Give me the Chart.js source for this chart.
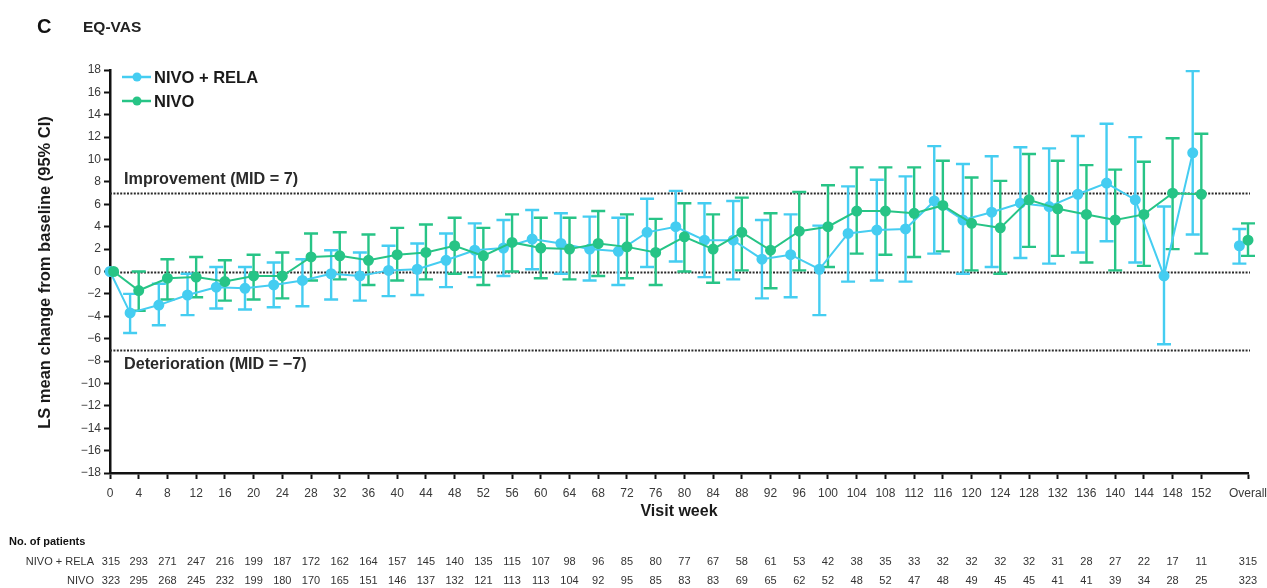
<!DOCTYPE html>
<html>
<head>
<meta charset="utf-8">
<title>EQ-VAS</title>
<script src="https://cdn.jsdelivr.net/npm/chart.js@4.4.1/dist/chart.umd.min.js"></script>
<style>
  html, body { margin: 0; padding: 0; background: #ffffff; }
  #wrap { width: 1267px; height: 588px; position: relative; }
</style>
</head>
<body>
<div id="wrap"><canvas id="chart" width="1267" height="588"></canvas></div>
<script>
// Visit weeks (x categories) and the pooled "Overall" column
const weeks = [0, 4, 8, 12, 16, 20, 24, 28, 32, 36, 40, 44, 48, 52, 56, 60, 64, 68, 72, 76,
               80, 84, 88, 92, 96, 100, 104, 108, 112, 116, 120, 124, 128, 132, 136, 140, 144, 148, 152];
const overallLabel = 'Overall';

// NIVO + RELA: LS mean change from baseline and 95% CI bounds
const relaMean = [0, -3.7, -3.0, -2.1, -1.4, -1.5, -1.2, -0.8, -0.2, -0.4, 0.1, 0.2, 1.0, 1.9, 2.1, 2.9,
                  2.5, 2.0, 1.8, 3.5, 4.0, 2.8, 2.8, 1.1, 1.5, 0.2, 3.4, 3.7, 3.8, 6.3, 4.6, 5.3, 6.1, 5.8,
                  6.9, 7.9, 6.4, -0.4, 10.6];
const relaLow  = [null, -5.5, -4.8, -3.9, -3.3, -3.4, -3.2, -3.1, -2.5, -2.6, -2.2, -2.1, -1.4, -0.5, -0.4, 0.2,
                  -0.2, -0.8, -1.2, 0.4, 0.9, -0.5, -0.7, -2.4, -2.3, -3.9, -0.9, -0.8, -0.9, 1.6, -0.2, 0.4,
                  1.2, 0.7, 1.7, 2.7, 0.8, -6.5, 3.3];
const relaHigh = [null, -2.0, -1.1, -0.2, 0.4, 0.4, 0.8, 1.1, 1.9, 1.7, 2.3, 2.5, 3.4, 4.3, 4.6, 5.5,
                  5.2, 4.9, 4.8, 6.5, 7.2, 6.1, 6.3, 4.6, 5.1, 4.1, 7.6, 8.2, 8.5, 11.2, 9.6, 10.3,
                  11.1, 11.0, 12.1, 13.2, 12.0, 5.8, 17.9];
const relaOverall = { mean: 2.3, low: 0.7, high: 3.8 };

// NIVO: LS mean change from baseline and 95% CI bounds
const nivoMean = [0, -1.7, -0.6, -0.5, -0.9, -0.4, -0.4, 1.3, 1.4, 1.0, 1.5, 1.7, 2.3, 1.4, 2.6, 2.1,
                  2.0, 2.5, 2.2, 1.7, 3.1, 2.0, 3.5, 1.9, 3.6, 4.0, 5.4, 5.4, 5.2, 5.9, 4.3, 3.9, 6.4,
                  5.6, 5.1, 4.6, 5.1, 7.0, 6.9];
const nivoLow  = [null, -3.5, -2.5, -2.3, -2.6, -2.5, -2.4, -0.8, -0.7, -1.2, -0.8, -0.7, -0.2, -1.2, 0.0, -0.6,
                  -0.7, -0.4, -0.6, -1.2, 0.0, -1.0, 0.1, -1.5, 0.1, 0.4, 1.6, 1.5, 1.3, 1.8, 0.1, -0.2,
                  2.2, 1.4, 0.8, 0.1, 0.5, 2.0, 1.6];
const nivoHigh = [null, 0.0, 1.1, 1.3, 1.0, 1.5, 1.7, 3.4, 3.5, 3.3, 3.9, 4.2, 4.8, 3.9, 5.1, 4.8,
                  4.8, 5.4, 5.1, 4.7, 6.1, 5.1, 6.6, 5.2, 7.1, 7.7, 9.3, 9.3, 9.3, 9.9, 8.4, 8.1,
                  10.5, 9.9, 9.5, 9.1, 9.8, 11.9, 12.3];
const nivoOverall = { mean: 2.8, low: 1.4, high: 4.3 };

// Number of patients contributing at each visit (last entry = Overall)
const relaPatients = [315, 293, 271, 247, 216, 199, 187, 172, 162, 164, 157, 145, 140, 135, 115, 107, 98, 96, 85, 80,
                      77, 67, 58, 61, 53, 42, 38, 35, 33, 32, 32, 32, 32, 31, 28, 27, 22, 17, 11, 315];
const nivoPatients = [323, 295, 268, 245, 232, 199, 180, 170, 165, 151, 146, 137, 132, 121, 113, 113, 104, 92, 95, 85,
                      83, 83, 69, 65, 62, 52, 48, 52, 47, 48, 49, 45, 45, 41, 41, 39, 34, 28, 25, 323];

// Minimal important difference thresholds
const MID = 7;

// y-axis tick values
const yTicks = [-18, -16, -14, -12, -10, -8, -6, -4, -2, 0, 2, 4, 6, 8, 10, 12, 14, 16, 18];

// ---- styling constants ----
const CYAN = '#45cdf1';
const GREEN = '#27c486';
const OVERALL_POS = 158.5;   // x-axis position of the Overall column
const DODGE = 1.2;           // NIVO + RELA drawn slightly left of each visit
const FONT = '"Liberation Sans", Arial, Helvetica, sans-serif';

const relaX = w => (w === 0 ? 0 : w - DODGE);
const nivoX = w => (w === 0 ? 0.5 : w);

const relaPts = weeks.map((w, i) => ({ x: relaX(w), y: relaMean[i], lo: relaLow[i], hi: relaHigh[i] }));
const nivoPts = weeks.map((w, i) => ({ x: nivoX(w), y: nivoMean[i], lo: nivoLow[i], hi: nivoHigh[i] }));
const relaOv = [{ x: OVERALL_POS - DODGE, y: relaOverall.mean, lo: relaOverall.low, hi: relaOverall.high }];
const nivoOv = [{ x: OVERALL_POS, y: nivoOverall.mean, lo: nivoOverall.low, hi: nivoOverall.high }];

const tickPositions = [...weeks, OVERALL_POS];
const fmtNeg = v => (v < 0 ? '\u2212' + Math.abs(v) : String(v));

// Dotted reference lines at 0 and ±MID
const refLines = {
  id: 'refLines',
  beforeDatasetsDraw(chart) {
    const { ctx, scales: { x, y } } = chart;
    const x0 = x.getPixelForValue(0);
    const x1 = x.getPixelForValue(OVERALL_POS) + 2;
    ctx.save();
    ctx.strokeStyle = '#2a2a2a';
    ctx.lineWidth = 2.2;
    ctx.setLineDash([2, 1.4]);
    [MID, 0, -MID].forEach(v => {
      const py = Math.round(y.getPixelForValue(v)) + 0.5;
      ctx.beginPath();
      ctx.moveTo(x0, py);
      ctx.lineTo(x1, py);
      ctx.stroke();
    });
    ctx.restore();
  }
};

// 95% CI whiskers with caps, read from each point's lo/hi values
const errorBars = {
  id: 'errorBars',
  beforeDatasetsDraw(chart) {
    const { ctx, scales: { x, y } } = chart;
    const cap = 7;
    ctx.save();
    ctx.lineWidth = 2.4;
    chart.data.datasets.forEach(ds => {
      ctx.strokeStyle = ds.borderColor;
      ds.data.forEach(p => {
        if (p.lo == null || p.hi == null) return;
        const px = x.getPixelForValue(p.x);
        const yl = y.getPixelForValue(p.lo);
        const yh = y.getPixelForValue(p.hi);
        ctx.beginPath();
        ctx.moveTo(px, yl); ctx.lineTo(px, yh);
        ctx.moveTo(px - cap, yl); ctx.lineTo(px + cap, yl);
        ctx.moveTo(px - cap, yh); ctx.lineTo(px + cap, yh);
        ctx.stroke();
      });
    });
    ctx.restore();
  }
};

// Titles, legend, threshold labels and the patient-count table
const annotations = {
  id: 'annotations',
  afterDraw(chart) {
    const { ctx, scales: { x, y } } = chart;
    ctx.save();
    ctx.textBaseline = 'middle';

    // panel letter and panel title
    ctx.fillStyle = '#111';
    ctx.font = 'bold 20px ' + FONT;
    ctx.textAlign = 'left';
    ctx.fillText('C', 37, 27);
    ctx.font = 'bold 15.5px ' + FONT;
    ctx.fillStyle = '#222';
    ctx.fillText('EQ-VAS', 83, 28);

    // y-axis title
    ctx.save();
    ctx.translate(45, y.getPixelForValue(0) + 1);
    ctx.rotate(-Math.PI / 2);
    ctx.textAlign = 'center';
    ctx.font = 'bold 16.5px ' + FONT;
    ctx.fillStyle = '#1a1a1a';
    ctx.fillText('LS mean change from baseline (95% CI)', 0, 0);
    ctx.restore();

    // legend
    const legend = [['NIVO + RELA', CYAN, 77], ['NIVO', GREEN, 101]];
    legend.forEach(([label, col, ly]) => {
      ctx.strokeStyle = col;
      ctx.lineWidth = 2.5;
      ctx.beginPath();
      ctx.moveTo(122, ly); ctx.lineTo(151, ly);
      ctx.stroke();
      ctx.fillStyle = col;
      ctx.beginPath();
      ctx.arc(137, ly, 4.5, 0, Math.PI * 2);
      ctx.fill();
      ctx.fillStyle = '#1a1a1a';
      ctx.font = 'bold 16.5px ' + FONT;
      ctx.textAlign = 'left';
      ctx.fillText(label, 154, ly + 1);
    });

    // MID labels
    ctx.fillStyle = '#2a2a2a';
    ctx.font = 'bold 16.2px ' + FONT;
    ctx.textAlign = 'left';
    ctx.fillText('Improvement (MID = ' + MID + ')', 124, y.getPixelForValue(MID) - 14);
    ctx.fillText('Deterioration (MID = \u2212' + MID + ')', 124, y.getPixelForValue(-MID) + 15);

    // x-axis title
    ctx.fillStyle = '#1a1a1a';
    ctx.font = 'bold 16px ' + FONT;
    ctx.textAlign = 'center';
    const midX = (x.getPixelForValue(0) + x.getPixelForValue(OVERALL_POS)) / 2;
    ctx.fillText('Visit week', midX, 512);

    // patient-count table
    ctx.font = 'bold 11px ' + FONT;
    ctx.textAlign = 'left';
    ctx.fillStyle = '#111';
    ctx.fillText('No. of patients', 9, 542);
    ctx.font = '11px ' + FONT;
    ctx.fillStyle = '#333';
    ctx.textAlign = 'right';
    ctx.fillText('NIVO + RELA', 94, 562);
    ctx.fillText('NIVO', 94, 581);
    ctx.textAlign = 'center';
    tickPositions.forEach((pos, i) => {
      const px = x.getPixelForValue(pos) + (i === 0 ? 1 : 0);
      ctx.fillText(String(relaPatients[i]), px, 562);
      ctx.fillText(String(nivoPatients[i]), px, 581);
    });
    ctx.restore();
  }
};

const lineStyle = (label, col, data, showLine) => ({
  label,
  data,
  borderColor: col,
  backgroundColor: col,
  pointBackgroundColor: col,
  pointBorderColor: col,
  pointRadius: 4.5,
  pointHoverRadius: 4.5,
  borderWidth: 2,
  showLine,
  clip: false,
  tension: 0
});

new Chart(document.getElementById('chart'), {
  type: 'line',
  data: {
    datasets: [
      lineStyle('NIVO', GREEN, nivoPts, true),
      lineStyle('NIVO (overall)', GREEN, nivoOv, false),
      lineStyle('NIVO + RELA', CYAN, relaPts, true),
      lineStyle('NIVO + RELA (overall)', CYAN, relaOv, false)
    ]
  },
  options: {
    responsive: false,
    animation: false,
    events: [],
    layout: { padding: { top: 70, left: 0, right: 19, bottom: 0 } },
    plugins: {
      legend: { display: false },
      tooltip: { enabled: false },
      title: { display: false }
    },
    scales: {
      x: {
        type: 'linear',
        min: 0,
        max: OVERALL_POS,
        afterBuildTicks: s => { s.ticks = tickPositions.map(v => ({ value: v })); },
        afterFit: s => { s.height = 115; s.paddingLeft = 0; s.paddingRight = 0; },
        ticks: {
          autoSkip: false,
          maxRotation: 0,
          padding: 7,
          color: '#3a3a3a',
          font: { family: FONT, size: 12 },
          callback: v => (v === OVERALL_POS ? overallLabel : String(v))
        },
        grid: { drawOnChartArea: false, drawTicks: true, tickLength: 6, tickColor: '#111', tickWidth: 2 },
        border: { display: true, color: '#111', width: 2.5 }
      },
      y: {
        type: 'linear',
        min: -18,
        max: 18,
        afterBuildTicks: s => { s.ticks = yTicks.map(v => ({ value: v })); },
        afterFit: s => { s.width = 110; s.paddingTop = 0; s.paddingBottom = 0; },
        ticks: {
          autoSkip: false,
          padding: 3,
          color: '#3a3a3a',
          font: { family: FONT, size: 12 },
          callback: v => fmtNeg(v)
        },
        grid: { drawOnChartArea: false, drawTicks: true, tickLength: 6, tickColor: '#111', tickWidth: 2 },
        border: { display: true, color: '#111', width: 2.5 }
      }
    }
  },
  plugins: [refLines, errorBars, annotations]
});
</script>
</body>
</html>
